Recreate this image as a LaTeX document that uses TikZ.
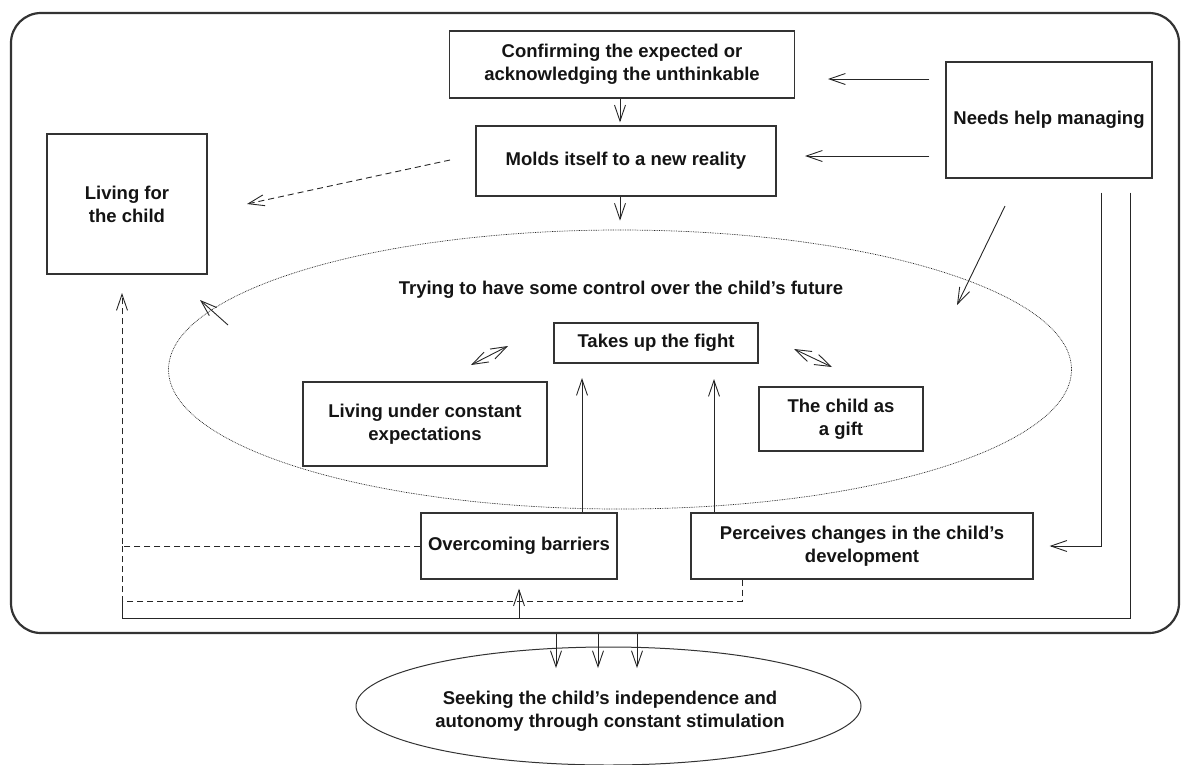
\documentclass[tikz,border=0pt]{standalone}
\usepackage{fontspec}
\setmainfont{Liberation Sans}
\usetikzlibrary{arrows.meta,shapes.geometric}

\begin{document}
\begin{tikzpicture}[x=1pt,y=-1pt,
  >={Straight Barb[length=16pt,width=11pt]},
  every node/.style={font=\fontsize{18.5}{23}\selectfont\bfseries, text=black!92},
  box/.style={draw=black!80, line width=1.2pt, inner sep=0pt, align=center},
  link/.style={draw=black!85, line width=0.9pt},
  dashlink/.style={link, dash pattern=on 6pt off 4pt},
  oval/.style={ellipse, draw=black!80, inner sep=0pt, align=center}]

  \useasboundingbox (0,0) rectangle (1181,764);

  % outer frame
  \node[box, line width=2.2pt, rounded corners=30pt, minimum width=1168pt,
    minimum height=620pt] (frame) at (595,323) {};

  \node[box, minimum width=345pt, minimum height=67pt] (confirm) at (622,64.5)
    {Confirming the expected or\\acknowledging the unthinkable};
  \node[box, minimum width=300pt, minimum height=70pt] (molds) at (626,161)
    {Molds itself to a new reality};
  \node[box, minimum width=206pt, minimum height=116pt] (needs) at (1049,120)
    {Needs help managing};
  \node[box, minimum width=160pt, minimum height=140pt] (living) at (127,204)
    {Living for\\the child};

  \node[oval, draw=black!85, line width=0.7pt, dash pattern=on 0.8pt off 0.9pt,
    minimum width=903pt, minimum height=279pt] (control) at (620,369.5) {};
  \node (controltitle) at (621,290)
    {Trying to have some control over the child’s future};
  \node[box, minimum width=204pt, minimum height=40pt] (fight) at (656,343)
    {Takes up the fight};
  \node[box, minimum width=244pt, minimum height=84pt] (expect) at (425,424)
    {Living under constant\\expectations};
  \node[box, minimum width=164pt, minimum height=64pt] (gift) at (841,419)
    {The child as\\a gift};
  \node[box, minimum width=196pt, minimum height=66pt] (barriers) at (519,546)
    {Overcoming barriers};
  \node[box, minimum width=342pt, minimum height=66pt] (perceive) at (862,546)
    {Perceives changes in the child’s\\development};

  \node[oval, line width=1pt, minimum width=505pt, minimum height=118pt]
    (seeking) at (608.5,706) {};
  \node[align=center] (seekingtext) at (610,711)
    {Seeking the child’s independence and\\autonomy through constant stimulation};

  % free arrow ends
  \coordinate (toconfirm) at (828,79);
  \coordinate (tomolds) at (805,156);
  \coordinate (dashfrom) at (450,160);
  \coordinate (dashto) at (247,204);
  \coordinate (helpfrom) at (1005,206);
  \coordinate (helpto) at (957,305);
  \coordinate (outfrom) at (228,325);
  \coordinate (outto) at (200,300);
  \coordinate (expA) at (471,365);
  \coordinate (expB) at (508,346);
  \coordinate (giftA) at (794,349);
  \coordinate (giftB) at (832,367);
  \coordinate (fightL) at (582,378);
  \coordinate (fightR) at (714,379);
  \coordinate (livebelow) at (122,293);
  \coordinate (loopR) at (742,601);
  \coordinate (railR) at (1130,618);
  \coordinate (railP) at (1101,547);

  \draw[link,->,shorten >=3pt] (control.north |- confirm.south) -- (control.north |- molds.north);
  \draw[link,->,shorten >=9pt] (control.north |- molds.south) -- (control.north);
  \draw[link,->,shorten <=16pt] (needs.west |- toconfirm) -- (toconfirm);
  \draw[link,->,shorten <=16pt] (needs.west |- tomolds) -- (tomolds);
  \draw[dashlink,->] (dashfrom) -- (dashto);
  \draw[link,->] (helpfrom) -- (helpto);
  \draw[link,->] (outfrom) -- (outto);
  \draw[link,<->] (expA) -- (expB);
  \draw[link,<->] (giftA) -- (giftB);
  \draw[link,->] (barriers.north -| fightL) -- (fightL);
  \draw[link,->] (perceive.north -| fightR) -- (fightR);

  % loops back to the child
  \draw[dashlink,->] (barriers.west) -| (livebelow);
  \draw[dashlink] (perceive.south -| loopR) -- (loopR) -| (livebelow |- barriers.west);
  \draw[link,shorten <=14pt] (needs.south -| railR) -- (railR) -- (railR -| livebelow)
    -- (livebelow |- loopR);
  \draw[link,->,shorten >=9pt] (barriers.south |- railR) -- (barriers.south);
  \draw[link,->,shorten <=14pt,shorten >=16pt] (needs.south -| railP) |- (perceive.east);

  \foreach \x in {556,598,637}
    \draw[link,->] (\x,0 |- frame.south) -- ++(0,34);

\end{tikzpicture}
\end{document}
